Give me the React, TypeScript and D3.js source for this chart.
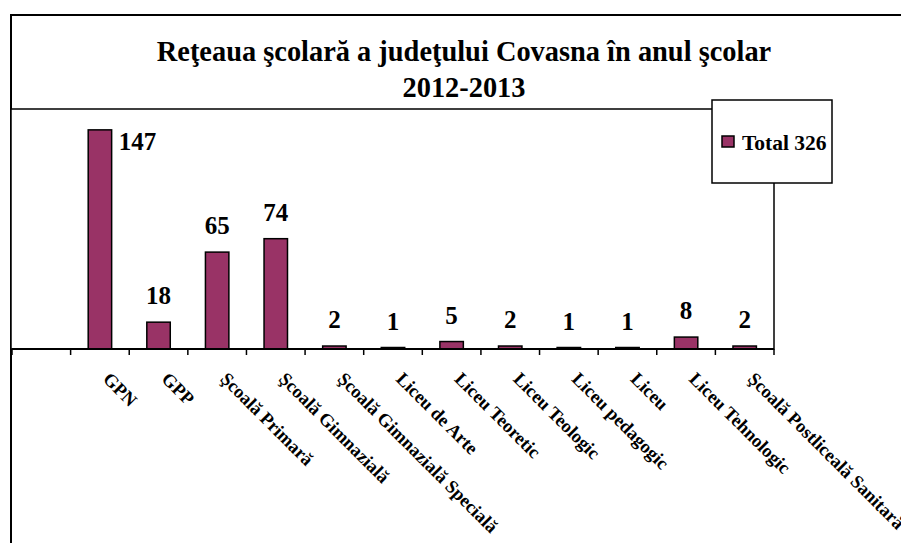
import React from "react";
import * as d3 from "d3";

const titleLines = ["Reţeaua şcolară a judeţului Covasna în anul şcolar", "2012-2013"];
const categories = [
  "",
  "GPN",
  "GPP",
  "Şcoală Primară",
  "Şcoală Gimnazială",
  "Şcoală Gimnazială Specială",
  "Liceu de Arte",
  "Liceu Teoretic",
  "Liceu Teologic",
  "Liceu pedagogic",
  "Liceu",
  "Liceu Tehnologic",
  "Şcoală Postliceală Sanitară",
];
const values: (number | null)[] = [null, 147, 18, 65, 74, 2, 1, 5, 2, 1, 1, 8, 2];
const seriesName = "Total 326";
const yMax = 161;

const W = 901;
const H = 543;
const FONT = "'Liberation Serif', 'Times New Roman', serif";
const FILL = "#993366";

export default function App() {
  const plot = { left: 11, right: 774, top: 109, bottom: 349 };
  const x = d3
    .scaleBand<number>()
    .domain(categories.map((_, i) => i))
    .range([12, plot.right])
    .paddingInner(0.6)
    .paddingOuter(0.3);
  const step = x.step();
  const y = d3.scaleLinear().domain([0, yMax]).range([plot.bottom, plot.top]);
  const tickXs = d3.range(categories.length + 1).map((k) => 12 + k * step);
  const titleCx = 464;

  return (
    <svg
      width={W}
      height={H}
      style={{ position: "absolute", left: 0, top: 0, background: "#fff" }}
      fontFamily={FONT}
      fontWeight="bold"
    >
      <rect x={0} y={0} width={W} height={H} fill="#fff" />
      {/* chart area border */}
      <rect x={11} y={15} width={W + 20} height={H + 20} fill="#fff" stroke="#000" strokeWidth={2} />
      {/* title */}
      <text x={titleCx} y={61} textAnchor="middle" fontSize={28.4} fill="#000">
        {titleLines[0]}
      </text>
      <text x={titleCx} y={97} textAnchor="middle" fontSize={28.4} fill="#000">
        {titleLines[1]}
      </text>
      {/* plot area */}
      <rect
        x={plot.left}
        y={plot.top}
        width={plot.right - plot.left}
        height={plot.bottom - plot.top}
        fill="#fff"
        stroke="#000"
        strokeWidth={1.5}
      />
      {/* bars */}
      {values.map((v, i) =>
        v == null ? null : (
          <rect
            key={"b" + i}
            x={x(i)!}
            y={y(v)}
            width={x.bandwidth()}
            height={plot.bottom - y(v)}
            fill={FILL}
            stroke="#000"
            strokeWidth={1.5}
          />
        )
      )}
      {/* axis line and ticks */}
      <line x1={12} x2={plot.right} y1={plot.bottom} y2={plot.bottom} stroke="#000" strokeWidth={2} />
      {tickXs.map((tx, k) => (
        <line key={"t" + k} x1={tx} x2={tx} y1={plot.bottom} y2={plot.bottom + 6} stroke="#000" strokeWidth={1.5} />
      ))}
      {/* data labels */}
      {values.map((v, i) => {
        if (v == null) return null;
        const top = y(v);
        const cx = x(i)! + x.bandwidth() / 2;
        if (top - 18 - 17 < plot.top) {
          return (
            <text key={"l" + i} x={x(i)! + x.bandwidth() + 7} y={top + 20} fontSize={25} textAnchor="start">
              {v}
            </text>
          );
        }
        return (
          <text key={"l" + i} x={cx} y={top - 18} fontSize={25} textAnchor="middle">
            {v}
          </text>
        );
      })}
      {/* category labels */}
      {categories.map((c, i) => {
        const cx = x(i)! + x.bandwidth() / 2;
        return (
          <text
            key={"c" + i}
            transform={`translate(${cx + 2},${380}) rotate(45)`}
            fontSize={18.5}
            textAnchor="start"
          >
            {c}
          </text>
        );
      })}
      {/* legend */}
      <rect x={712} y={100} width={120} height={83} fill="#fff" stroke="#000" strokeWidth={1.5} />
      <rect x={722} y={136} width={12} height={11} fill={FILL} stroke="#000" strokeWidth={1.5} />
      <text x={742} y={150} fontSize={21.5}>
        {seriesName}
      </text>
    </svg>
  );
}
